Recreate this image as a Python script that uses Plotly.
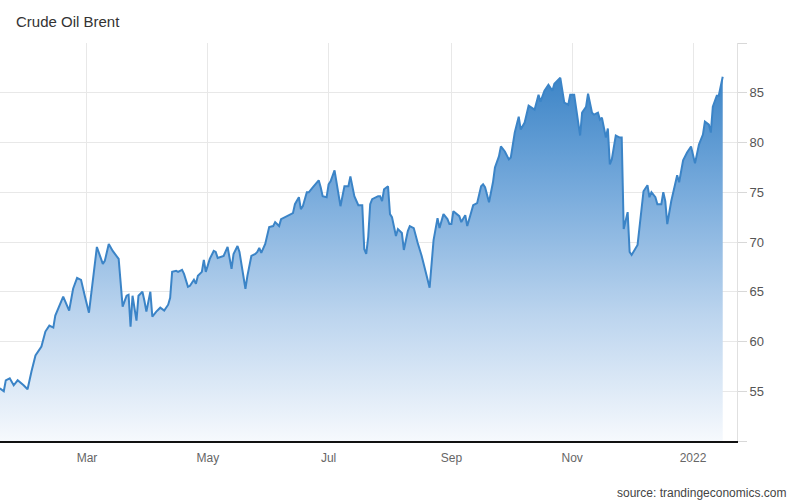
import plotly.graph_objects as go

dates = [
    "2021-01-16", "2021-01-18", "2021-01-19", "2021-01-21", "2021-01-23", "2021-01-25", "2021-01-28", "2021-01-30",
    "2021-02-01", "2021-02-03", "2021-02-06", "2021-02-08", "2021-02-10", "2021-02-12", "2021-02-13", "2021-02-15",
    "2021-02-17", "2021-02-20", "2021-02-22", "2021-02-24", "2021-02-26", "2021-02-28",
    "2021-03-02", "2021-03-06", "2021-03-09", "2021-03-10", "2021-03-12", "2021-03-14", "2021-03-17", "2021-03-19",
    "2021-03-21", "2021-03-22", "2021-03-23", "2021-03-24", "2021-03-26", "2021-03-27", "2021-03-29", "2021-03-30",
    "2021-03-31", "2021-04-02", "2021-04-03", "2021-04-05", "2021-04-07", "2021-04-09", "2021-04-11", "2021-04-12",
    "2021-04-13", "2021-04-15", "2021-04-16", "2021-04-18", "2021-04-19", "2021-04-21", "2021-04-22", "2021-04-24",
    "2021-04-25", "2021-04-26", "2021-04-28", "2021-04-29", "2021-04-30",
    "2021-05-02", "2021-05-04", "2021-05-05", "2021-05-06", "2021-05-09", "2021-05-11", "2021-05-13", "2021-05-14",
    "2021-05-16", "2021-05-17", "2021-05-20", "2021-05-21", "2021-05-23", "2021-05-25", "2021-05-26", "2021-05-27",
    "2021-05-28", "2021-05-30",
    "2021-06-01", "2021-06-03", "2021-06-04", "2021-06-06", "2021-06-07", "2021-06-09", "2021-06-11", "2021-06-13",
    "2021-06-14", "2021-06-16", "2021-06-17", "2021-06-18", "2021-06-20", "2021-06-21", "2021-06-23", "2021-06-26",
    "2021-06-27", "2021-06-28", "2021-06-30",
    "2021-07-01", "2021-07-02", "2021-07-04", "2021-07-07", "2021-07-09", "2021-07-11", "2021-07-12", "2021-07-14",
    "2021-07-16", "2021-07-18", "2021-07-19", "2021-07-20", "2021-07-21", "2021-07-22", "2021-07-23", "2021-07-26",
    "2021-07-27", "2021-07-28", "2021-07-29", "2021-07-31",
    "2021-08-01", "2021-08-02", "2021-08-04", "2021-08-05", "2021-08-07", "2021-08-08", "2021-08-10", "2021-08-11",
    "2021-08-13", "2021-08-15", "2021-08-17", "2021-08-19", "2021-08-21", "2021-08-23", "2021-08-25", "2021-08-26",
    "2021-08-28", "2021-08-30", "2021-08-31",
    "2021-09-01", "2021-09-02", "2021-09-05", "2021-09-06", "2021-09-08", "2021-09-09", "2021-09-11", "2021-09-12",
    "2021-09-14", "2021-09-16", "2021-09-17", "2021-09-18", "2021-09-20", "2021-09-22", "2021-09-23", "2021-09-25",
    "2021-09-26", "2021-09-28", "2021-09-30",
    "2021-10-01", "2021-10-03", "2021-10-05", "2021-10-06", "2021-10-08", "2021-10-10", "2021-10-13", "2021-10-15",
    "2021-10-16", "2021-10-18", "2021-10-20", "2021-10-22", "2021-10-23", "2021-10-26", "2021-10-28", "2021-10-30",
    "2021-10-31",
    "2021-11-02", "2021-11-05", "2021-11-06", "2021-11-08", "2021-11-09", "2021-11-11", "2021-11-12", "2021-11-14",
    "2021-11-15", "2021-11-16", "2021-11-18", "2021-11-19", "2021-11-20", "2021-11-21", "2021-11-23", "2021-11-25",
    "2021-11-26", "2021-11-27", "2021-11-29", "2021-11-30",
    "2021-12-01", "2021-12-03", "2021-12-04", "2021-12-07", "2021-12-09", "2021-12-10", "2021-12-11", "2021-12-13",
    "2021-12-14", "2021-12-16", "2021-12-17", "2021-12-18", "2021-12-19", "2021-12-21", "2021-12-24", "2021-12-25",
    "2021-12-27", "2021-12-29", "2021-12-31",
    "2022-01-02", "2022-01-04", "2022-01-06", "2022-01-07", "2022-01-09", "2022-01-10", "2022-01-11", "2022-01-13",
    "2022-01-14", "2022-01-16",
]

prices = [
    55.3, 55.0, 56.1, 56.3, 55.6, 56.1, 55.6, 55.2,
    57.0, 58.6, 59.5, 61.0, 61.6, 61.4, 62.6, 63.5,
    64.5, 63.1, 65.3, 66.4, 66.2, 64.5,
    62.9, 69.5, 67.8, 68.1, 69.8, 69.1, 68.3, 63.5,
    64.6, 64.7, 61.5, 64.6, 62.1, 64.6, 65.0, 64.1,
    63.0, 65.0, 62.5, 63.0, 63.4, 63.1, 63.7, 64.4,
    67.0, 67.1, 67.0, 67.2, 66.8, 65.5, 65.6, 66.2,
    65.8, 66.6, 67.0, 68.2, 67.0,
    68.3, 69.1, 69.0, 68.4, 68.6, 69.5, 67.3, 68.8,
    69.6, 69.0, 65.3, 66.6, 68.6, 68.8, 69.0, 69.4,
    68.9, 69.8,
    71.5, 71.6, 72.0, 71.6, 72.3, 72.5, 72.7, 72.9,
    73.8, 74.5, 73.3, 73.6, 75.0, 75.0, 75.5, 76.2,
    75.5, 74.6, 74.5,
    75.8, 76.1, 77.2, 73.6, 75.6, 75.6, 76.6, 74.6,
    73.7, 73.7, 69.3, 68.8, 70.5, 73.8, 74.3, 74.6,
    74.6, 74.1, 75.3, 75.6,
    72.8, 72.5, 70.6, 71.3, 70.9, 69.2, 71.1, 71.6,
    71.4, 69.9, 68.6, 67.0, 65.4, 70.2, 72.4, 71.4,
    72.8, 72.3, 71.8,
    71.8, 73.1, 72.6, 72.0, 72.7, 71.6, 73.0, 73.7,
    73.9, 75.6, 75.8, 75.5, 74.0, 76.0, 77.5, 78.6,
    79.6, 79.1, 78.3,
    78.5, 81.0, 82.6, 81.3, 82.0, 83.7, 83.3, 84.8,
    84.1, 85.2, 85.8, 85.2, 85.9, 86.5, 84.0, 83.8,
    84.8,
    84.8, 80.7, 83.0, 83.6, 84.9, 83.0, 82.8, 83.0,
    82.3, 82.5, 80.5, 81.4, 77.8, 78.3, 80.7, 80.5,
    80.5, 71.3, 73.0, 69.0,
    68.7, 69.4, 69.7, 75.1, 75.7, 74.5, 75.0, 74.5,
    73.8, 73.8, 75.0, 74.1, 71.8, 74.1, 76.7, 76.0,
    78.2, 79.0, 79.6,
    77.9, 79.8, 80.8, 82.1, 81.8, 81.0, 83.6, 84.7,
    84.7, 86.6,
]

x_tick_dates = ["2021-03-01", "2021-05-01", "2021-07-01", "2021-09-01", "2021-11-01", "2022-01-01"]
x_tick_labels = ["Mar", "May", "Jul", "Sep", "Nov", "2022"]
y_tick_values = [50, 55, 60, 65, 70, 75, 80, 85, 90]
y_tick_labels = ["", "55", "60", "65", "70", "75", "80", "85", ""]

title_text = "Crude Oil Brent"
source_text = "source: trandingeconomics.com"

fig = go.Figure()
fig.add_trace(go.Scatter(
    x=dates, y=prices, mode="lines",
    line=dict(color="#3b84c7", width=2),
    fill="tozeroy",
    fillgradient=dict(
        type="vertical",
        start=50, stop=86.6,
        colorscale=[[0, "#f6f9fd"], [0.35, "#bbd4ee"], [0.7, "#75a9db"], [1, "#3d85c7"]],
    ),
    hoverinfo="x+y",
))

narrow = "Liberation Sans Narrow, Arial Narrow, Liberation Sans, Arial, sans-serif"

fig.update_layout(
    width=800, height=502,
    margin=dict(l=0, r=63, t=43, b=61),
    paper_bgcolor="white", plot_bgcolor="white",
    showlegend=False,
    xaxis=dict(
        type="date",
        range=["2021-01-16 02:00", "2022-01-23 05:00"],
        tickvals=x_tick_dates, ticktext=x_tick_labels,
        showgrid=True, gridcolor="#e8e8e8", gridwidth=1,
        showline=True, linecolor="#111111", linewidth=2,
        ticks="", ticklabelstandoff=5,
        tickfont=dict(family=narrow, size=12, color="#666666"),
        zeroline=False,
    ),
    yaxis=dict(
        side="right",
        range=[50, 90],
        tickvals=y_tick_values, ticktext=y_tick_labels,
        showgrid=True, gridcolor="#e8e8e8", gridwidth=1,
        showline=True, linecolor="#e0e0e0", linewidth=1,
        ticks="outside", ticklen=9, tickcolor="#d8d8d8",
        tickfont=dict(family="Liberation Sans, Arial, sans-serif", size=13, color="#555555"),
        zeroline=False,
    ),
    annotations=[
        dict(text=title_text, xref="paper", yref="paper", x=0, y=1, xshift=14, yshift=22,
             xanchor="left", yanchor="middle", showarrow=False,
             font=dict(family="Liberation Sans, Arial, sans-serif", size=15, color="#333333")),
        dict(text=source_text, xref="paper", yref="paper", x=1, y=0, xshift=51, yshift=-52,
             xanchor="right", yanchor="middle", showarrow=False,
             font=dict(family=narrow, size=12, color="#444444")),
    ],
)

fig.write_html("out.html", config={"displayModeBar": False},
               post_script="document.body.style.margin='0';document.body.style.padding='0';")
